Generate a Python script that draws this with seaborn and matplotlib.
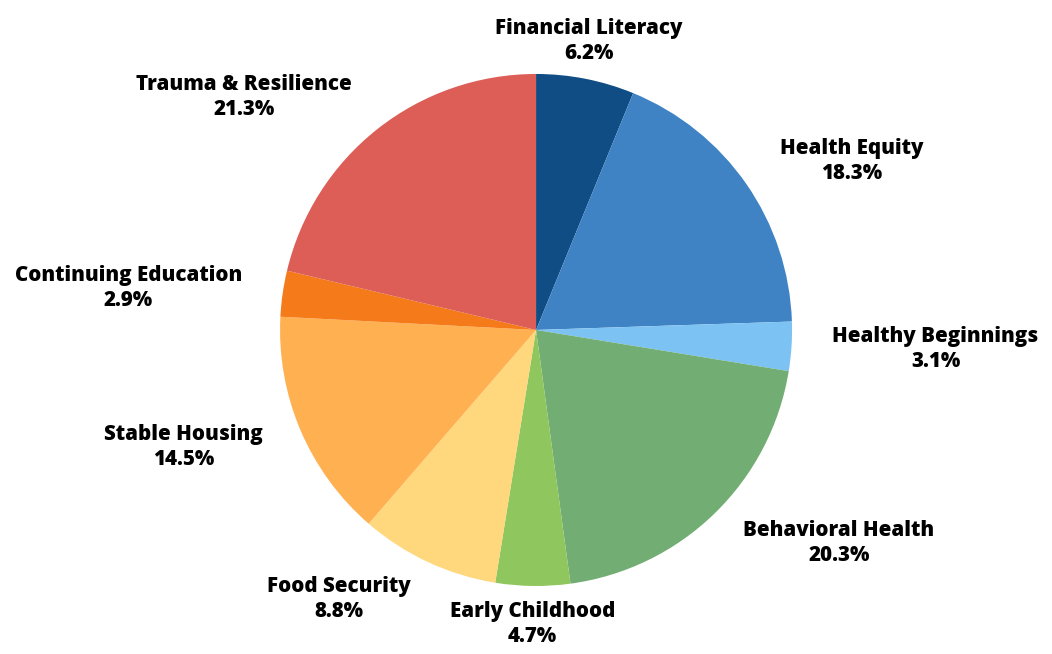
import matplotlib.pyplot as plt
import numpy as np
import seaborn as sns

# -- data ------------------------------------------------------------------ #
categories = ['Financial Literacy', 'Health Equity', 'Healthy Beginnings',
              'Behavioral Health', 'Early Childhood', 'Food Security',
              'Stable Housing', 'Continuing Education', 'Trauma & Resilience']
shares = [6.2, 18.3, 3.1, 20.3, 4.7, 8.8, 14.5, 2.9, 21.3]
colours = ['#114d85', '#3f83c4', '#7cc2f2', '#72ad73', '#8fc65e',
           '#ffd77c', '#ffb152', '#f57a1a', '#dc5e56']

# -- style ----------------------------------------------------------------- #
sns.set_theme(style='white')
plt.rcParams['font.family'] = ['Open Sans', 'DejaVu Sans']

fig = plt.figure(figsize=(10.52, 6.54), dpi=100)
ax = fig.add_axes([0.2662, 0.104, 0.4867, 0.7829])

wedges, _ = ax.pie(shares, colors=colours, startangle=90, counterclock=False,
                   radius=1, wedgeprops={'linewidth': 0})
ax.set_xlim(-1, 1)
ax.set_ylim(-1, 1)
ax.set_aspect('equal')

# labels outside each wedge
for w, name, val in zip(wedges, categories, shares):
    ang = np.deg2rad((w.theta1 + w.theta2) / 2)
    c, s = np.cos(ang), np.sin(ang)
    if abs(c) < 0.3:
        ha = 'center'
        va = 'bottom' if s > 0 else 'top'
        d = 1.06
    else:
        ha = 'left' if c > 0 else 'right'
        va = 'center'
        d = 1.16
    ax.text(d * c, d * s, f'{name}\n{val:.1f}%', ha=ha, va=va,
            fontsize=14.8, fontweight='heavy', color='black',
            multialignment='center', linespacing=1.25, clip_on=False)

fig.savefig('out.png', dpi=100)
